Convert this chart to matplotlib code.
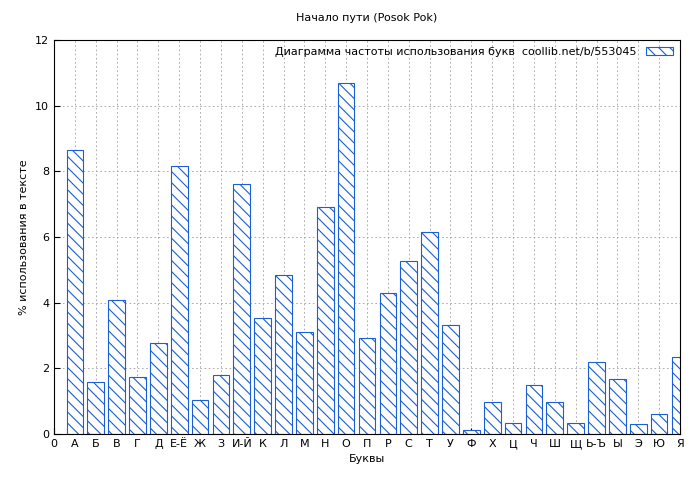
import matplotlib
matplotlib.use("Agg")
import matplotlib.pyplot as plt

plt.rcParams['font.family'] = ['DejaVu Sans']
plt.rcParams['hatch.color'] = '#1a5fd6'
plt.rcParams['hatch.linewidth'] = 0.8

labels = ["0", "А", "Б", "В", "Г", "Д", "Е-Ё", "Ж", "З", "И-Й", "К", "Л", "М", "Н", "О",
          "П", "Р", "С", "Т", "У", "Ф", "Х", "Ц", "Ч", "Ш", "Щ", "Ь-Ъ", "Ы", "Э", "Ю", "Я"]
values = [8.65, 1.58, 4.07, 1.73, 2.78, 8.15, 1.05, 1.8, 7.6, 3.52, 4.85, 3.12, 6.92, 10.7,
          2.93, 4.28, 5.28, 6.15, 3.33, 0.12, 0.97, 0.33, 1.5, 0.97, 0.35, 2.18, 1.67, 0.3,
          0.62, 2.33]

fig = plt.figure(figsize=(7, 4.8), dpi=100)
ax = fig.add_axes([54/700, 1-434/480, 626/700, 394/480])
pos = list(range(1, len(values) + 1))
ax.bar(pos, values, width=0.8, facecolor='white', edgecolor='#1a5fd6', linewidth=0.8,
       hatch='\\\\\\', label="Диаграмма частоты использования букв  coollib.net/b/553045")
ax.set_xlim(0, 30)
ax.set_ylim(0, 12)
ax.set_xticks(range(len(labels)))
ax.set_xticklabels(labels)
ax.set_yticks(range(0, 13, 2))
ax.tick_params(labelsize=8, direction='in', length=4)
ax.grid(True, color='#a0a0a0', linestyle=(0, (2, 3)), linewidth=0.6)
ax.set_axisbelow(True)
ax.set_title("Начало пути (Posok Pok)", fontsize=8, pad=14)
ax.set_xlabel("Буквы", fontsize=8)
ax.set_ylabel("% использования в тексте", fontsize=8)
leg = ax.legend(loc='upper right', fontsize=8, frameon=False, markerfirst=False,
                handlelength=2.5, handleheight=0.7, borderaxespad=0.2)
fig.savefig("out.png", dpi=100)
